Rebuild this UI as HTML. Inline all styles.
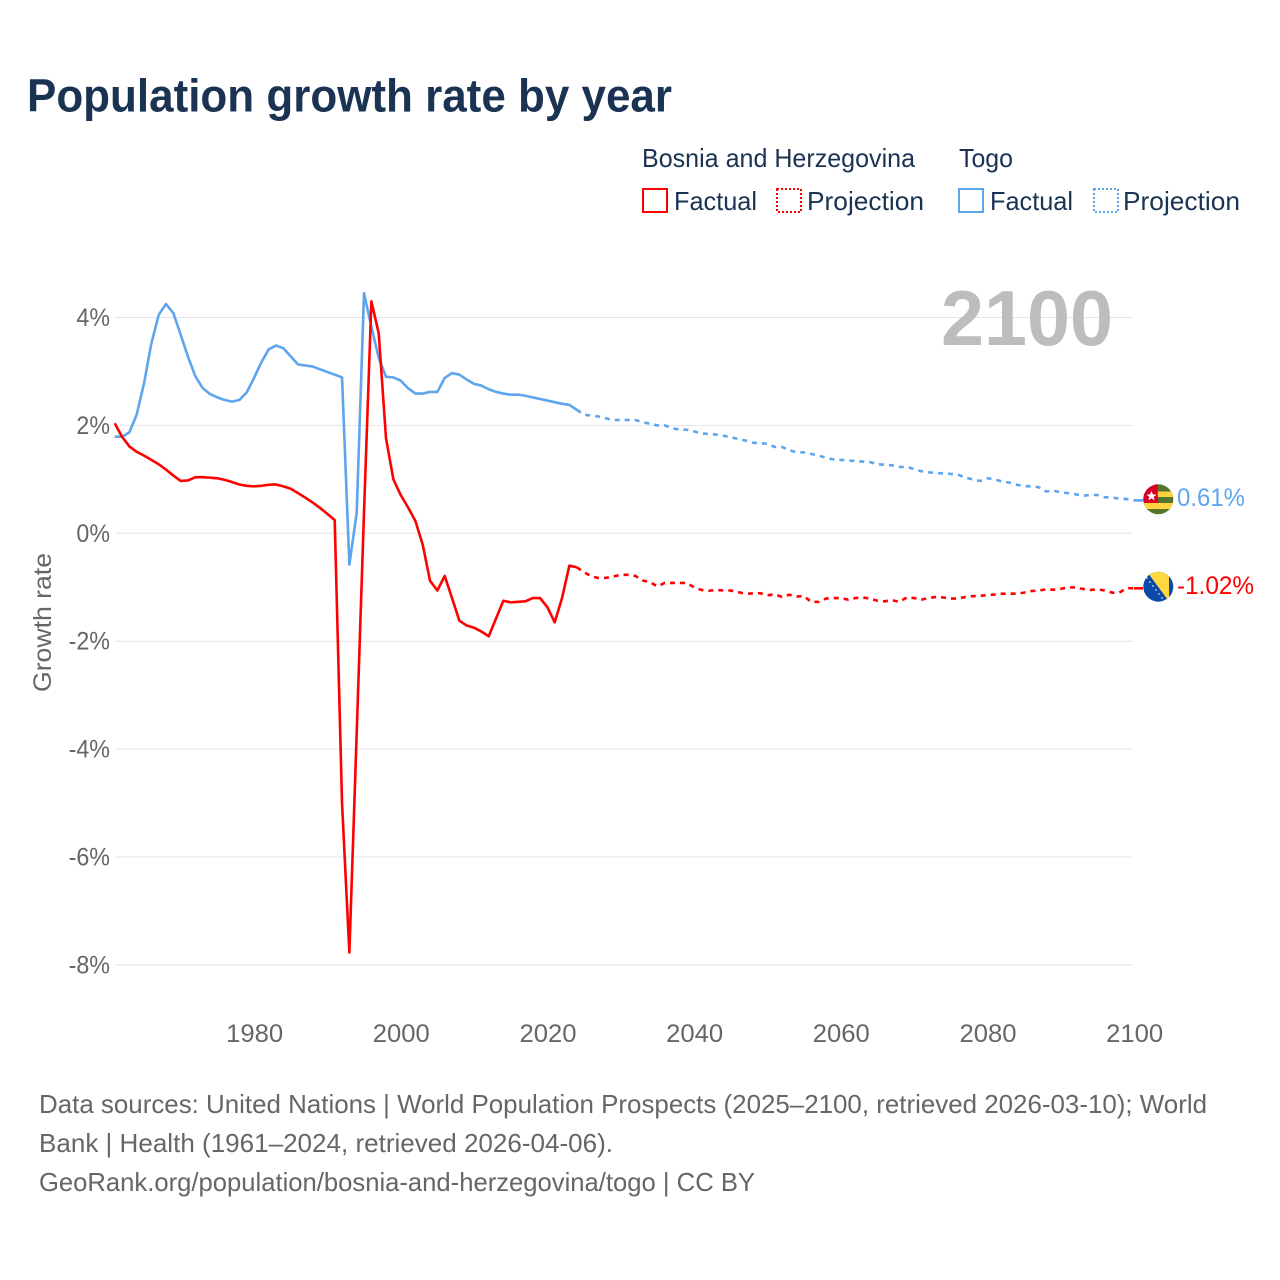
<!DOCTYPE html>
<html lang="en">
<head>
<meta charset="utf-8">
<title>Population growth rate by year</title>
<style>
html,body{margin:0;padding:0;background:#fff;}
svg{display:block;font-family:"Liberation Sans",sans-serif;}
</style>
</head>
<body>
<svg id="chart" width="1280" height="1280" viewBox="0 0 1280 1280" xmlns="http://www.w3.org/2000/svg">
  <defs>
    <clipPath id="togo-clip"><circle cx="1158.3" cy="499.3" r="15"/></clipPath>
    <clipPath id="bih-clip"><circle cx="1158.3" cy="586.7" r="15"/></clipPath>
  </defs>
  <rect width="1280" height="1280" fill="#ffffff"/>
  <text x="27" y="111.5" font-size="46" font-weight="700" fill="#1a3353" textLength="645" lengthAdjust="spacingAndGlyphs">Population growth rate by year</text>

  <g font-size="26" fill="#1a3353">
    <text x="642" y="167" textLength="273" lengthAdjust="spacingAndGlyphs">Bosnia and Herzegovina</text>
    <text x="959" y="167" textLength="54" lengthAdjust="spacingAndGlyphs">Togo</text>
    <rect x="643" y="189" width="24" height="23" fill="none" stroke="#ff0000" stroke-width="2"/>
    <text x="674" y="210" textLength="83" lengthAdjust="spacingAndGlyphs">Factual</text>
    <rect x="777" y="189" width="24" height="23" fill="none" stroke="#ff0000" stroke-width="2" stroke-dasharray="2 2"/>
    <text x="807" y="210" textLength="117" lengthAdjust="spacingAndGlyphs">Projection</text>
    <rect x="959" y="189" width="24" height="23" fill="none" stroke="#5ea5ee" stroke-width="2"/>
    <text x="990" y="210" textLength="83" lengthAdjust="spacingAndGlyphs">Factual</text>
    <rect x="1094" y="189" width="24" height="23" fill="none" stroke="#5ea5ee" stroke-width="2" stroke-dasharray="2 2"/>
    <text x="1123" y="210" textLength="117" lengthAdjust="spacingAndGlyphs">Projection</text>
  </g>

  <g id="grid"></g>
  <g id="y-ticks" font-size="25" fill="#666666" text-anchor="end"></g>
  <g id="x-ticks" font-size="25" fill="#666666" text-anchor="middle"></g>
  <text transform="translate(51 622.5) rotate(-90)" font-size="25" fill="#666666" text-anchor="middle" textLength="139" lengthAdjust="spacingAndGlyphs">Growth rate</text>

  <text id="year-label" x="1113" y="345" font-size="78" font-weight="700" fill="#bdbdbd" text-anchor="end" textLength="172" lengthAdjust="spacingAndGlyphs">2100</text>

  <g id="series"></g>

  <g id="togo-flag" clip-path="url(#togo-clip)">
    <rect x="1143" y="484" width="31" height="31" fill="#55752c"/>
    <rect x="1157" y="491.5" width="17" height="5.5" fill="#ffd23f"/>
    <rect x="1143" y="503" width="31" height="6" fill="#ffd23f"/>
    <rect x="1143" y="484" width="14.8" height="19" fill="#d80027"/>
    <polygon points="1151.5,491 1152.9,494.4 1156.5,494.6 1153.7,496.9 1154.6,500.4 1151.5,498.4 1148.4,500.4 1149.3,496.9 1146.5,494.6 1150.1,494.4" fill="#ffffff"/>
  </g>
  <g id="bih-flag" clip-path="url(#bih-clip)">
    <rect x="1143" y="571" width="31" height="31" fill="#0b49a8"/>
    <polygon points="1146.5,571 1169,571 1169,601.5" fill="#ffd83d"/>
    <g fill="#c9d6ee">
      <circle cx="1147" cy="578" r="0.9"/><circle cx="1150" cy="582" r="0.9"/><circle cx="1153" cy="586" r="0.9"/>
      <circle cx="1156" cy="590" r="0.9"/><circle cx="1159" cy="594" r="0.9"/><circle cx="1162" cy="598" r="0.9"/>
    </g>
  </g>

  <text id="togo-value" x="1177" y="506" font-size="25" fill="#5ea5ee" textLength="68" lengthAdjust="spacingAndGlyphs"></text>
  <text id="bih-value" x="1177" y="594" font-size="25" fill="#ff0000" textLength="77" lengthAdjust="spacingAndGlyphs"></text>

  <g font-size="26" fill="#666666">
    <text x="39" y="1113" textLength="1168" lengthAdjust="spacingAndGlyphs">Data sources: United Nations | World Population Prospects (2025–2100, retrieved 2026-03-10); World</text>
    <text x="39" y="1152" textLength="574" lengthAdjust="spacingAndGlyphs">Bank | Health (1961–2024, retrieved 2026-04-06).</text>
    <text x="39" y="1191" textLength="716" lengthAdjust="spacingAndGlyphs">GeoRank.org/population/bosnia-and-herzegovina/togo | CC BY</text>
  </g>
</svg>

<script>
const firstYear = 1961;
const lastFactualYear = 2024;
const xTickLabels = [1980, 2000, 2020, 2040, 2060, 2080, 2100];
const yTickLabels = [4, 2, 0, -2, -4, -6, -8];

const bosniaFactual = [
  2.04,1.79,1.61,1.51,1.44,1.36,1.28,1.18,1.07,0.97,
  0.98,1.04,1.04,1.03,1.02,0.99,0.95,0.905,0.88,0.87,
  0.88,0.90,0.905,0.87,0.825,0.745,0.66,0.57,0.47,0.36,
  0.245,-5.0,-7.77,-3.7,0.4,4.30,3.71,1.76,1.00,0.71,
  0.48,0.23,-0.21,-0.88,-1.06,-0.79,-1.2,-1.62,-1.71,-1.75,
  -1.82,-1.91,-1.58,-1.25,-1.28,-1.27,-1.26,-1.20,-1.20,-1.37,
  -1.65,-1.20,-0.60,-0.63
];
const bosniaProjection = [
  -0.72,-0.80,-0.83,-0.825,-0.80,-0.77,-0.77,-0.79,-0.875,-0.905,
  -0.985,-0.92,-0.92,-0.92,-0.92,-1.0,
  -1.05,-1.065,-1.05,-1.06,-1.06,-1.09,-1.12,-1.115,-1.11,-1.15,
  -1.13,-1.18,-1.14,-1.17,-1.165,-1.275,-1.27,-1.21,-1.2,-1.2,
  -1.23,-1.2,-1.19,-1.21,-1.25,-1.26,-1.24,-1.27,-1.19,-1.2,
  -1.23,-1.2,-1.18,-1.19,-1.21,-1.21,-1.18,-1.165,-1.16,-1.145,
  -1.135,-1.12,-1.12,-1.12,-1.10,-1.07,-1.06,-1.04,-1.045,-1.03,
  -1.0,-1.005,-1.03,-1.05,-1.04,-1.06,-1.10,-1.10,-1.015,-1.02
];
const togoFactual = [
  1.79,1.79,1.87,2.2,2.78,3.52,4.05,4.25,4.08,3.68,
  3.27,2.91,2.69,2.58,2.52,2.47,2.44,2.47,2.61,2.88,
  3.17,3.41,3.48,3.43,3.28,3.13,3.11,3.09,3.04,2.99,
  2.94,2.89,-0.58,0.38,4.45,3.83,3.25,2.90,2.89,2.83,
  2.69,2.59,2.59,2.62,2.62,2.88,2.97,2.94,2.85,2.77,
  2.74,2.67,2.62,2.59,2.57,2.57,2.55,2.52,2.49,2.46,
  2.43,2.40,2.38,2.29
];
const togoProjection = [
  2.20,2.18,2.165,2.13,2.10,2.10,2.10,2.10,2.06,2.03,
  2.00,2.00,1.95,1.92,1.92,1.89,
  1.85,1.84,1.83,1.81,1.78,1.75,1.72,1.68,1.67,1.66,
  1.60,1.60,1.54,1.50,1.50,1.47,1.44,1.40,1.37,1.36,
  1.35,1.34,1.33,1.32,1.28,1.27,1.26,1.23,1.23,1.19,
  1.15,1.13,1.12,1.11,1.10,1.085,1.03,1.00,0.97,1.02,
  1.00,0.96,0.94,0.90,0.875,0.87,0.855,0.775,0.79,0.76,
  0.745,0.725,0.695,0.71,0.71,0.67,0.66,0.645,0.635,0.61
];

const NS = 'http://www.w3.org/2000/svg';
function xScale(year) { return 114.7 + (year - 1961) * 7.3333; }
function yScale(value) { return 533.3 - value * 53.95; }
function pathFrom(values, startYear) {
  return values.map(function (v, i) {
    return (i ? 'L' : 'M') + xScale(startYear + i).toFixed(2) + ' ' + yScale(v).toFixed(2);
  }).join(' ');
}

const gridGroup = document.getElementById('grid');
const yTickGroup = document.getElementById('y-ticks');
yTickLabels.forEach(function (t) {
  const line = document.createElementNS(NS, 'line');
  
  
  line.setAttribute('x1', xScale(1961));
  line.setAttribute('x2', 1133);
  line.setAttribute('y1', yScale(t));
  line.setAttribute('y2', yScale(t));
  line.setAttribute('stroke', '#e4e4e4');
  line.setAttribute('stroke-width', '1');
  gridGroup.appendChild(line);

  const label = document.createElementNS(NS, 'text');
  
  
  label.setAttribute('x', 110);
  label.setAttribute('y', yScale(t) + 8.5);
  label.textContent = t + '%';
  yTickGroup.appendChild(label);
  label.setAttribute('textLength', (label.getComputedTextLength() * 0.93).toFixed(1));
  label.setAttribute('lengthAdjust', 'spacingAndGlyphs');
});

const xTickGroup = document.getElementById('x-ticks');
xTickLabels.forEach(function (t) {
  const label = document.createElementNS(NS, 'text');
  
  
  label.setAttribute('x', xScale(t) + 0.6);
  label.setAttribute('y', 1042);
  label.setAttribute('textLength', '57');
  label.setAttribute('lengthAdjust', 'spacingAndGlyphs');
  label.textContent = t;
  xTickGroup.appendChild(label);
});

const seriesGroup = document.getElementById('series');
function addLine(d, color, dashed, name) {
  const p = document.createElementNS(NS, 'path');
  
  
  p.setAttribute('d', d);
  p.setAttribute('fill', 'none');
  p.setAttribute('stroke', color);
  p.setAttribute('stroke-width', '2.6');
  p.setAttribute('stroke-linejoin', 'round');
  if (dashed) p.setAttribute('stroke-dasharray', '5 5');
  seriesGroup.appendChild(p);
}
const projectionStart = lastFactualYear + 1;
const togoEnd = togoProjection[togoProjection.length - 1];
const bosniaEnd = bosniaProjection[bosniaProjection.length - 1];
const endYear = projectionStart + togoProjection.length - 1;

addLine(pathFrom(togoFactual, firstYear), '#5ea5ee', false, 'togo-factual-line');
addLine(pathFrom([togoFactual[togoFactual.length - 1]].concat(togoProjection), lastFactualYear), '#5ea5ee', true, 'togo-projection-line');
addLine('M' + xScale(endYear) + ' ' + yScale(togoEnd) + ' L1143 ' + yScale(togoEnd), '#5ea5ee', false, 'togo-flag-connector');
addLine(pathFrom(bosniaFactual, firstYear), '#ff0000', false, 'bosnia-factual-line');
addLine(pathFrom([bosniaFactual[bosniaFactual.length - 1]].concat(bosniaProjection), lastFactualYear), '#ff0000', true, 'bosnia-projection-line');
addLine('M' + xScale(endYear) + ' ' + yScale(bosniaEnd) + ' L1143 ' + yScale(bosniaEnd), '#ff0000', false, 'bosnia-flag-connector');

document.getElementById('togo-value').textContent = togoEnd.toFixed(2) + '%';
document.getElementById('bih-value').textContent = bosniaEnd.toFixed(2) + '%';
document.getElementById('togo-value').setAttribute('y', (yScale(togoEnd) + 5.5).toFixed(1));
document.getElementById('bih-value').setAttribute('y', (yScale(bosniaEnd) + 5.5).toFixed(1));
</script>
</body>
</html>
